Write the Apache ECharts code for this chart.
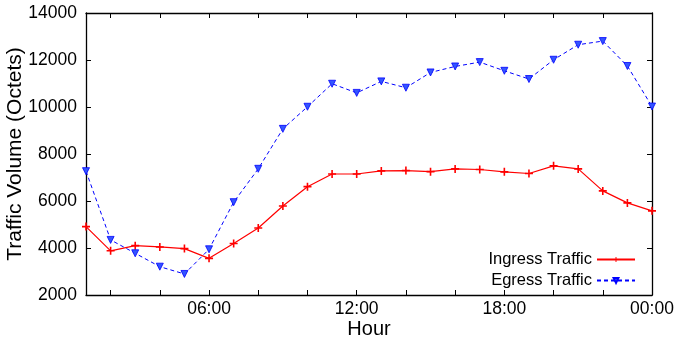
<!DOCTYPE html>
<html><head><meta charset="utf-8">
<script src="https://cdn.jsdelivr.net/npm/echarts@6/dist/echarts.min.js"></script>
<style>html,body{margin:0;padding:0;background:#fff}#c{width:675px;height:344px}</style>
</head><body><div id="c"></div>
<script>
const hours = [1,2,3,4,5,6,7,8,9,10,11,12,13,14,15,16,17,18,19,20,21,22,23,24];
const ingress = [4910,3880,4100,4045,3975,3560,4190,4850,5790,6610,7150,7150,7280,7295,7250,7365,7340,7240,7170,7495,7365,6430,5920,5580];
const egress = [7270,4345,3775,3205,2895,3945,5950,7370,9070,10010,10990,10600,11090,10820,11470,11725,11910,11540,11190,12010,12650,12805,11745,10020];
const xTickValues = [2,4,6,8,10,12,14,16,18,20,22,24];
const xLabelValues = [6,12,18,24];
const xLabelText = {6:'06:00',12:'12:00',18:'18:00',24:'00:00'};

const font = 'Liberation Sans, Arial, sans-serif';
const chart = echarts.init(document.getElementById('c'), null, {renderer:'canvas'});
const axisLine = {show:true, lineStyle:{color:'#000', width:1.3}};
const tick = {show:true, inside:true, length:5, lineStyle:{color:'#000', width:1}};
chart.setOption({
  animation:false,
  grid:{left:86, right:23, top:13, bottom:49, containLabel:false, outerBoundsMode:'none'},
  xAxis:[{
    type:'value', min:1, max:24, position:'bottom',
    name:'Hour', nameLocation:'middle', nameGap:24, nameMoveOverlap:false,
    nameTextStyle:{fontFamily:font, fontSize:20, color:'#000'},
    axisLine, splitLine:{show:false},
    axisTick:Object.assign({customValues:xTickValues}, tick),
    axisLabel:{customValues:xLabelValues, formatter:v=>xLabelText[v]||'', fontFamily:font, fontSize:17.5, color:'#000', margin:5}
  },{
    type:'value', min:1, max:24, position:'top',
    axisLine, splitLine:{show:false},
    axisTick:Object.assign({customValues:xTickValues}, tick),
    axisLabel:{show:false}
  }],
  yAxis:[{
    type:'value', min:2000, max:14000, interval:2000, position:'left',
    name:'Traffic Volume (Octets)', nameLocation:'middle', nameGap:60, nameRotate:90, nameMoveOverlap:false,
    nameTextStyle:{fontFamily:font, fontSize:21, color:'#000'},
    axisLine, splitLine:{show:false}, axisTick:tick,
    axisLabel:{formatter:v=>String(v), fontFamily:font, fontSize:17.5, color:'#000', margin:9}
  },{
    type:'value', min:2000, max:14000, interval:2000, position:'right',
    axisLine, splitLine:{show:false}, axisTick:tick, axisLabel:{show:false}
  }],
  legend:{
    right:39, bottom:55, orient:'vertical', align:'right', itemGap:4, padding:0,
    itemWidth:38, itemHeight:6,
    textStyle:{fontFamily:font, fontSize:16.5, color:'#000'},
    data:['Ingress Traffic','Egress Traffic']
  },
  series:[{
    name:'Ingress Traffic', type:'line',
    data:hours.map((h,i)=>[h, ingress[i]]),
    symbol:'path://M4,0H6V10H4Z M0,4H10V6H0Z', symbolSize:8,
    lineStyle:{color:'#ff0000', width:1.2},
    itemStyle:{color:'#ff0000'}
  },{
    name:'Egress Traffic', type:'line',
    data:hours.map((h,i)=>[h, egress[i]]),
    symbol:'triangle', symbolRotate:180, symbolSize:7,
    lineStyle:{color:'#0000ff', width:1, type:[4,3]},
    itemStyle:{color:'#3355ff', borderColor:'#0000ff', borderWidth:0.8}
  }]
});
</script></body></html>
